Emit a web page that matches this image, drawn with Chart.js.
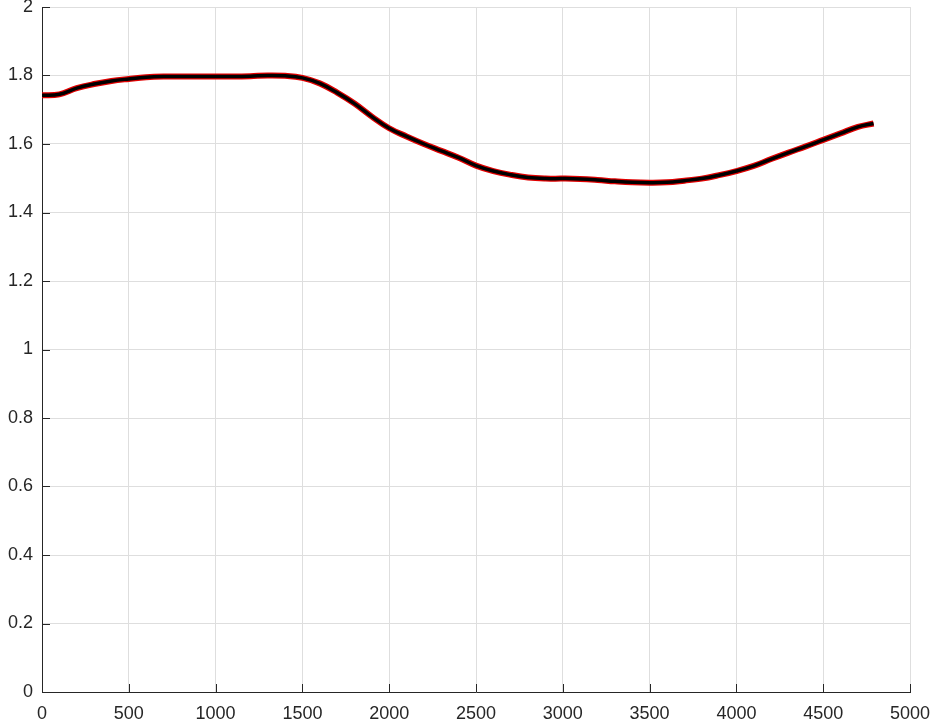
<!DOCTYPE html>
<html>
<head>
<meta charset="utf-8">
<script src="https://cdn.jsdelivr.net/npm/chart.js@4"></script>
<style>
  html, body { margin: 0; padding: 0; background: #fff; }
  #wrap { width: 936px; height: 728px; }
</style>
</head>
<body>
<div id="wrap"><canvas id="plot" width="936" height="728"></canvas></div>
<script>
// x positions (samples) and measured values
const xValues = [0, 100, 200, 300, 400, 500, 600, 700, 800, 900, 1000, 1100, 1200, 1300, 1400,
  1500, 1600, 1700, 1800, 1900, 2000, 2100, 2200, 2300, 2400, 2500, 2600, 2700, 2800, 2900,
  3000, 3100, 3200, 3300, 3400, 3500, 3600, 3700, 3800, 3900, 4000, 4100, 4200, 4300, 4400,
  4500, 4600, 4700, 4790];
const yValues = [1.742, 1.745, 1.763, 1.775, 1.784, 1.790, 1.795, 1.797, 1.797, 1.797, 1.797,
  1.797, 1.798, 1.800, 1.799, 1.793, 1.777, 1.750, 1.718, 1.680, 1.646, 1.622, 1.600, 1.580,
  1.560, 1.537, 1.521, 1.510, 1.502, 1.499, 1.499, 1.498, 1.495, 1.491, 1.488, 1.487, 1.488,
  1.493, 1.499, 1.509, 1.521, 1.536, 1.556, 1.575, 1.593, 1.612, 1.631, 1.650, 1.660];

const xTicks = [0, 500, 1000, 1500, 2000, 2500, 3000, 3500, 4000, 4500, 5000];
const yTicks = [0, 0.2, 0.4, 0.6, 0.8, 1, 1.2, 1.4, 1.6, 1.8, 2];

const points = xValues.map((x, i) => ({ x: x, y: yValues[i] }));

// small inward tick marks, matlab style
const innerTicks = {
  id: 'innerTicks',
  afterDraw(chart) {
    const ctx = chart.ctx;
    const xs = chart.scales.x, ys = chart.scales.y;
    const area = chart.chartArea;
    ctx.save();
    ctx.strokeStyle = '#262626';
    ctx.lineWidth = 1;
    ctx.beginPath();
    xTicks.forEach(t => {
      const px = Math.round(xs.getPixelForValue(t)) + 0.5;
      ctx.moveTo(px, area.bottom);
      ctx.lineTo(px, area.bottom - 8);
    });
    yTicks.forEach(t => {
      const py = Math.round(ys.getPixelForValue(t)) + 0.5;
      ctx.moveTo(area.left, py);
      ctx.lineTo(area.left + 8, py);
    });
    ctx.stroke();
    ctx.restore();
  }
};

const fmt = v => String(Number(v.toFixed(1)));
const labelFont = { family: 'Liberation Sans, Arial, sans-serif', size: 18 };

new Chart(document.getElementById('plot').getContext('2d'), {
  type: 'line',
  data: {
    datasets: [
      {
        data: points,
        borderColor: '#000000',
        borderWidth: 3.5,
        pointRadius: 0,
        tension: 0.4,
        fill: false
      },
      {
        data: points,
        borderColor: '#e00000',
        borderWidth: 6,
        pointRadius: 0,
        tension: 0.4,
        fill: false
      }
    ]
  },
  options: {
    responsive: false,
    animation: false,
    layout: { padding: { top: 7, right: 26, left: 0, bottom: 0 } },
    plugins: {
      legend: { display: false },
      tooltip: { enabled: false }
    },
    scales: {
      x: {
        type: 'linear',
        min: 0,
        max: 5000,
        afterBuildTicks: scale => { scale.ticks = xTicks.map(v => ({ value: v })); },
        afterFit: scale => { scale.height = 36; scale.paddingLeft = 0; scale.paddingRight = 0; },
        grid: { color: '#dedede', drawTicks: false },
        border: { color: '#262626', width: 1 },
        ticks: {
          color: '#262626',
          padding: 11,
          maxRotation: 0,
          font: labelFont,
          callback: v => String(v)
        }
      },
      y: {
        min: 0,
        max: 2,
        afterBuildTicks: scale => { scale.ticks = yTicks.map(v => ({ value: v })); },
        afterFit: scale => { scale.width = 42; scale.paddingTop = 0; scale.paddingBottom = 0; },
        grid: { color: '#dedede', drawTicks: false },
        border: { color: '#262626', width: 1 },
        ticks: {
          color: '#262626',
          padding: 9,
          font: labelFont,
          callback: v => fmt(v)
        }
      }
    }
  },
  plugins: [innerTicks]
});
</script>
</body>
</html>
